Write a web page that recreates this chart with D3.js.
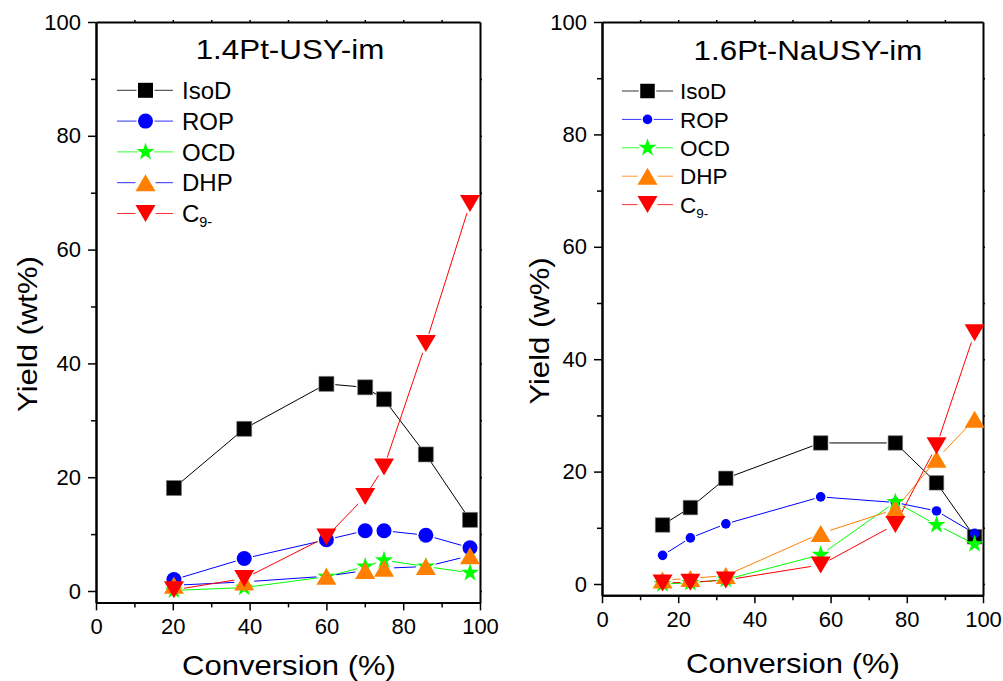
<!DOCTYPE html>
<html>
<head>
<meta charset="utf-8">
<script src="https://cdn.jsdelivr.net/npm/d3@7"></script>
<style>
  html, body { margin: 0; padding: 0; background: #fff; }
  svg { display: block; font-family: "Liberation Sans", Arial, sans-serif; }
</style>
</head>
<body>
<svg id="chart" width="1003" height="681"></svg>
<script>
// ---------- DATA ----------
const seriesNames = ["IsoD", "ROP", "OCD", "DHP", "C9-"];
const xTicks = [0, 20, 40, 60, 80, 100];
const yTicks = [0, 20, 40, 60, 80, 100];

// Panel A : 1.4Pt-USY-im
const conversionA = [20.3, 38.6, 60.0, 70.1, 75.0, 85.9, 97.4];
const isoDA = [18.1, 28.5, 36.4, 35.8, 33.7, 24.0, 12.5];
const ropA  = [2.0, 5.7, 9.0, 10.6, 10.6, 9.8, 7.6];
const ocdA  = [0.1, 0.6, 2.5, 4.3, 5.4, 4.3, 3.2];
const dhpA  = [1.0, 1.6, 2.6, 3.6, 4.0, 4.3, 6.2];
const c9A   = [0.2, 2.2, 9.5, 16.6, 21.8, 43.5, 68.1];

// Panel B : 1.6Pt-NaUSY-im
const conversionB = [15.9, 23.2, 32.5, 57.4, 77.0, 87.8, 97.8];
const isoDB = [10.5, 13.6, 18.8, 25.1, 25.1, 18.0, 8.4];
const ropB  = [5.1, 8.2, 10.7, 15.5, 14.5, 13.0, 9.0];
const ocdB  = [0.0, 0.2, 0.8, 5.2, 14.6, 10.5, 7.1];
const dhpB  = [0.7, 1.0, 1.5, 9.0, 13.3, 22.2, 29.3];
const c9B   = [0.2, 0.3, 0.7, 3.4, 10.6, 24.6, 44.7];

// ---------- STYLE / LAYOUT ----------
const markerColors = { "IsoD": "#000000", "ROP": "#0000ff", "OCD": "#00ff00", "DHP": "#ff8000", "C9-": "#ff0000" };
const shapes = { "IsoD": "square", "ROP": "circle", "OCD": "star", "DHP": "up", "C9-": "down" };

const panels = [
  {
    title: "1.4Pt-USY-im", yTitle: "Yield (wt%)",
    x: conversionA,
    values: { "IsoD": isoDA, "ROP": ropA, "OCD": ocdA, "DHP": dhpA, "C9-": c9A },
    lineColors: { "IsoD": "#000000", "ROP": "#0000ff", "OCD": "#00ff00", "DHP": "#0000ff", "C9-": "#ff0000" },
    left: 96, right: 480, top: 22, zeroY: 591,
    sizes: { square: 15, circle: 7.5, star: 9.5, triW: 20, triH: 17 },
    titleX: 290, titleY: 59,
    yTitleX: 37, yTitleY: 334,
    xTitleX: 289, xTitleY: 675,
    leg: { x1: 117, x2: 173, mx: 145.5, tx: 182, y0: 90.3, dy: 30.8, font: 24 }
  },
  {
    title: "1.6Pt-NaUSY-im", yTitle: "Yield (w%)",
    x: conversionB,
    values: { "IsoD": isoDB, "ROP": ropB, "OCD": ocdB, "DHP": dhpB, "C9-": c9B },
    lineColors: { "IsoD": "#000000", "ROP": "#0000ff", "OCD": "#00ff00", "DHP": "#ff8000", "C9-": "#ff0000" },
    left: 602, right: 983, top: 22, zeroY: 584,
    sizes: { square: 14.5, circle: 4.8, star: 9.5, triW: 20, triH: 17 },
    titleX: 808, titleY: 60,
    yTitleX: 549, yTitleY: 331,
    xTitleX: 793, xTitleY: 673,
    leg: { x1: 622, x2: 673, mx: 647.5, tx: 680, y0: 91, dy: 28.4, font: 22.5 }
  }
];

const svg = d3.select("#chart");

function markerPath(shape, s) {
  if (shape === "square") { const h = s.square / 2; return `M${-h},${-h}H${h}V${h}H${-h}Z`; }
  if (shape === "circle") return d3.symbol(d3.symbolCircle, Math.PI * s.circle * s.circle)();
  if (shape === "star") return d3.symbol(d3.symbolStar, s.star * s.star / 0.8908130915292852)();
  const w = s.triW / 2, h = s.triH / 2;
  if (shape === "up") return `M0,${-h}L${w},${h}L${-w},${h}Z`;
  return `M0,${h}L${w},${-h}L${-w},${-h}Z`;
}
function markerRadius(shape, s) {
  if (shape === "square") return s.square / 2 + 1.5;
  if (shape === "circle") return s.circle + 1.5;
  if (shape === "star") return s.star * 0.85;
  return Math.max(s.triW, s.triH) / 2;
}

panels.forEach(p => {
  const g = svg.append("g");
  const x = d3.scaleLinear().domain([0, 100]).range([p.left, p.right]);
  const pxPerUnit = (p.zeroY - p.top) / 100;
  const bottom = p.zeroY + 2 * pxPerUnit;
  const y = d3.scaleLinear().domain([-2, 100]).range([bottom, p.top]);

  // axes
  const axStyle = sel => {
    sel.selectAll("path.domain").attr("stroke", "#000").attr("stroke-width", 2);
    sel.selectAll(".tick line").attr("stroke", "#000").attr("stroke-width", 1.5);
    sel.selectAll("text").attr("font-size", 22).attr("fill", "#000").attr("font-family", "Liberation Sans, Arial, sans-serif");
  };
  g.append("g").attr("transform", `translate(0,${bottom})`)
    .call(d3.axisBottom(x).tickValues(xTicks).tickSize(8).tickSizeOuter(0).tickPadding(8).tickFormat(d3.format("d")))
    .call(axStyle);
  g.append("g").attr("transform", `translate(0,${bottom})`)
    .call(d3.axisBottom(x).tickValues(d3.range(10, 100, 20)).tickSize(5).tickSizeOuter(0).tickFormat(""))
    .call(axStyle);
  g.append("g").attr("transform", `translate(${p.left},0)`)
    .call(d3.axisLeft(y).tickValues(yTicks).tickSize(8).tickSizeOuter(0).tickPadding(7).tickFormat(d3.format("d")))
    .call(axStyle);
  g.append("g").attr("transform", `translate(${p.left},0)`)
    .call(d3.axisLeft(y).tickValues(d3.range(10, 100, 20)).tickSize(5).tickSizeOuter(0).tickFormat(""))
    .call(axStyle);
  g.append("g").attr("transform", `translate(0,${p.top})`)
    .call(d3.axisTop(x).tickValues(d3.range(10, 100, 10)).tickSize(2).tickSizeOuter(0).tickFormat(""))
    .call(axStyle);
  g.append("g").attr("transform", `translate(${p.right},0)`)
    .call(d3.axisRight(y).tickValues(d3.range(0, 100, 10)).tickSize(2).tickSizeOuter(0).tickFormat(""))
    .call(axStyle);

  // series lines with gaps at markers
  seriesNames.forEach(name => {
    const shape = shapes[name];
    const gap = markerRadius(shape, p.sizes);
    const pts = p.x.map((cx, i) => [x(cx), y(p.values[name][i])]);
    const segs = [];
    for (let i = 0; i < pts.length - 1; i++) {
      const [x0, y0] = pts[i], [x1, y1] = pts[i + 1];
      const dx = x1 - x0, dy = y1 - y0, d = Math.hypot(dx, dy);
      if (d <= 2 * gap + 1) continue;
      const ux = dx / d, uy = dy / d;
      segs.push([[x0 + ux * gap, y0 + uy * gap], [x1 - ux * gap, y1 - uy * gap]]);
    }
    g.append("g").selectAll("line").data(segs).join("line")
      .attr("x1", d => d[0][0]).attr("y1", d => d[0][1])
      .attr("x2", d => d[1][0]).attr("y2", d => d[1][1])
      .attr("stroke", p.lineColors[name]).attr("stroke-width", 1);
  });
  // markers
  seriesNames.forEach(name => {
    const shape = shapes[name];
    g.append("g").selectAll("path").data(p.x.map((cx, i) => [cx, p.values[name][i]])).join("path")
      .attr("d", markerPath(shape, p.sizes))
      .attr("transform", d => `translate(${x(d[0])},${y(d[1])})`)
      .attr("fill", markerColors[name])
      .attr("stroke", shape === "square" ? "#777" : "none")
      .attr("stroke-width", 0.6);
  });

  // titles
  g.append("text").attr("transform", `translate(${p.titleX},${p.titleY}) scale(1.12,1)`)
    .attr("text-anchor", "middle").attr("font-size", 28).text(p.title);
  g.append("text").attr("transform", `translate(${p.xTitleX},${p.xTitleY}) scale(1.15,1)`)
    .attr("text-anchor", "middle").attr("font-size", 27).text("Conversion (%)");
  g.append("text").attr("transform", `translate(${p.yTitleX},${p.yTitleY}) rotate(-90) scale(1.15,1)`)
    .attr("text-anchor", "middle").attr("font-size", 27).text(p.yTitle);

  // legend
  const L = p.leg;
  seriesNames.forEach((name, i) => {
    const cy = L.y0 + i * L.dy;
    const shape = shapes[name];
    const r = markerRadius(shape, p.sizes) - 1;
    const lg = g.append("g");
    lg.append("line").attr("x1", L.x1).attr("x2", L.mx - r - 1).attr("y1", cy).attr("y2", cy)
      .attr("stroke", p.lineColors[name]).attr("stroke-width", 1).attr("opacity", 0.8);
    lg.append("line").attr("x1", L.mx + r + 1).attr("x2", L.x2).attr("y1", cy).attr("y2", cy)
      .attr("stroke", p.lineColors[name]).attr("stroke-width", 1).attr("opacity", 0.8);
    lg.append("path").attr("d", markerPath(shape, p.sizes))
      .attr("transform", `translate(${L.mx},${cy})`).attr("fill", markerColors[name]);
    const t = lg.append("text").attr("x", L.tx).attr("y", cy + L.font * 0.36).attr("font-size", L.font);
    if (name === "C9-") {
      t.append("tspan").text("C");
      t.append("tspan").attr("font-size", L.font * 0.6).attr("dy", 5).text("9-");
    } else {
      t.text(name);
    }
  });
});
</script>
</body>
</html>
